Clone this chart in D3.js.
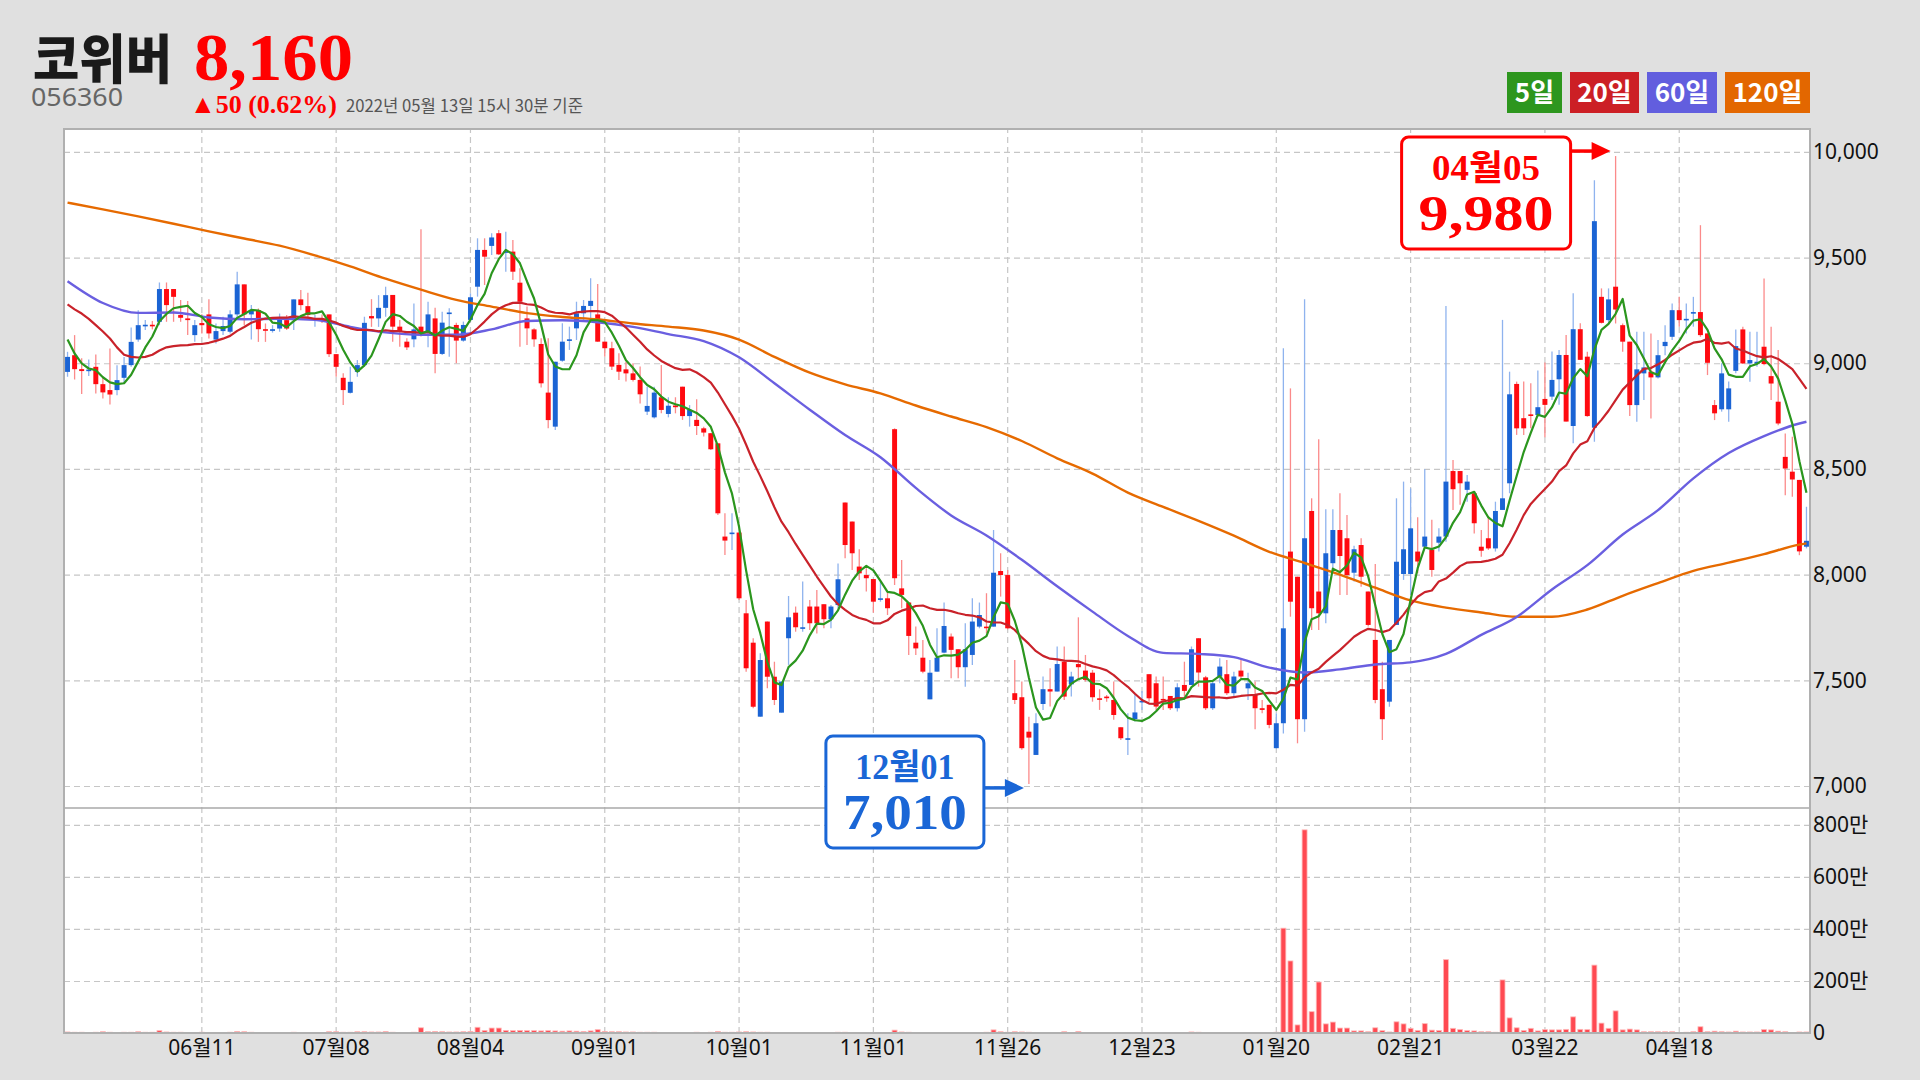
<!DOCTYPE html>
<html><head><meta charset="utf-8">
<script src="https://cdn.jsdelivr.net/npm/d3@7"></script>
<style>body{margin:0;background:#e0e0e0;}svg{display:block}</style>
</head><body><svg id="c" width="1920" height="1080"></svg>
<script>
// ---------------- DATA ----------------
const stockName = "코위버";
const stockCode = "056360";
const lastPrice = "8,160";
const changeText = "▲50 (0.62%)";
const timeText = "2022년 05월 13일 15시 30분 기준";

const opens = [8959,9038,8972,8963,8983,8901,8873,8873,8931,8991,
9112,9180,9182,9196,9351,9351,9228,9212,9133,9190,
9231,9112,9152,9149,9231,9373,9231,9251,9161,9153,
9164,9204,9204,9302,9270,9210,9212,9231,9043,8931,
8860,8959,8991,9223,9212,9262,9323,9173,9102,9113,
9173,9149,9212,9044,9237,9181,9107,9205,9362,9536,
9555,9615,9522,9528,9381,9212,9160,9091,8861,8700,
9012,9110,9165,9236,9271,9231,9102,9071,8992,8971,
8952,8921,8771,8744,8839,8760,8800,8889,8750,8732,
8692,8669,8621,8180,8195,8199,7817,7678,7328,7778,
7517,7347,7699,7820,7747,7849,7849,7860,7789,7856,
8341,8251,8038,7998,7979,7885,7888,8688,7935,7868,
7678,7607,7410,7541,7631,7707,7647,7562,7620,7754,
7754,7754,8017,7998,7439,7420,7257,7147,7388,7458,
7447,7588,7481,7577,7546,7536,7415,7423,7407,7278,
7223,7316,7397,7529,7486,7412,7426,7368,7478,7478,
7699,7514,7368,7518,7529,7439,7546,7462,7431,7368,
7384,7179,7297,8109,7990,7316,8301,7920,7817,8054,
8211,8172,8009,8140,7920,7691,7458,7399,7762,8003,
8003,8109,8132,8117,8151,8180,8490,8490,8401,8385,
8132,8172,8124,8306,8432,8902,8740,8758,8755,8831,
8842,8924,9039,8703,9161,9031,8695,9314,9204,9362,
9180,9102,8802,8952,8960,8933,9081,9125,9251,9204,
9236,9242,9141,8802,8782,8782,8964,9160,8999,8998,
9078,8939,8818,8557,8487,8448,8132];

const highs = [9054,9133,9023,9018,9041,8936,9070,8991,9030,9169,
9251,9204,9200,9382,9382,9351,9299,9294,9204,9232,
9303,9188,9220,9251,9433,9373,9275,9259,9188,9180,
9235,9228,9302,9346,9333,9228,9230,9231,9043,8952,
8983,9015,9220,9303,9322,9362,9323,9205,9118,9283,
9634,9291,9263,9244,9260,9192,9197,9331,9591,9591,
9615,9630,9622,9583,9449,9268,9165,9118,9118,9007,
9189,9173,9291,9299,9402,9375,9102,9102,9047,9007,
9000,8984,8889,8889,8992,8839,8839,8889,8802,8829,
8700,8669,8621,8290,8290,8199,7880,7699,7628,7778,
7588,7494,7899,7849,7967,7880,7927,7860,7856,8053,
8341,8251,8120,8030,7979,7967,7920,8692,8069,7868,
7754,7691,7596,7746,7868,7722,7647,7770,7888,7868,
7912,8211,8101,8022,7596,7494,7328,7344,7518,7557,
7660,7660,7541,7798,7620,7549,7458,7431,7494,7278,
7344,7439,7450,7529,7518,7518,7426,7486,7588,7660,
7699,7521,7502,7604,7596,7541,7596,7536,7494,7407,
7384,7344,9071,8881,7990,9303,8361,8640,8309,8309,
8385,8282,8136,8172,7920,8050,7588,7691,8361,8440,
8408,8271,8498,8259,8219,9271,8542,8490,8471,8393,
8211,8274,8345,9205,8960,8913,8913,8905,8965,9003,
9055,9063,9134,9331,9189,9054,9866,9354,9354,9980,
9188,9102,9149,9149,9141,9110,9180,9283,9314,9283,
9314,9653,9141,8826,9000,8913,9160,9173,9149,9149,
9401,9173,9062,8668,8652,8448,8321];

const lows = [8936,8923,8854,8939,8857,8833,8805,8849,8904,8983,
9101,9157,9160,9180,9196,9196,9196,9133,9101,9141,
9117,9093,9133,9141,9204,9180,9112,9101,9101,9145,
9149,9157,9157,9251,9204,9172,9190,9030,8936,8802,
8857,8936,8983,9172,9172,9220,9102,9078,9063,9075,
9126,9075,8952,9039,9031,9000,9102,9197,9315,9370,
9512,9512,9433,9394,9078,9086,9078,8885,8692,8684,
9007,9063,9110,9205,9205,9102,9031,8968,8921,8913,
8913,8810,8755,8739,8763,8744,8763,8732,8700,8661,
8653,8590,8282,8093,8117,7880,7541,7368,7328,7462,
7383,7347,7573,7730,7730,7738,7722,7746,7746,7841,
8077,8022,7975,7920,7820,7872,7809,7951,7841,7620,
7620,7533,7410,7541,7628,7510,7510,7470,7573,7746,
7722,7754,7896,7741,7388,7171,7010,7147,7360,7376,
7447,7407,7423,7502,7494,7399,7360,7399,7313,7218,
7147,7305,7360,7399,7360,7360,7360,7352,7423,7478,
7470,7360,7360,7486,7431,7423,7502,7407,7268,7344,
7273,7179,7249,7801,7202,7257,7738,7738,7770,8022,
7904,7904,7967,7943,7754,7391,7218,7375,7762,7975,
7904,8006,8132,7990,8109,8156,8306,8330,8345,8195,
8085,8117,8109,8306,8385,8661,8661,8692,8747,8650,
8826,8803,8724,8621,9016,8747,8628,9188,9188,9188,
9054,8750,8723,8826,8739,8928,9038,9110,9173,9141,
9173,9125,8944,8731,8771,8723,8952,8996,8912,8983,
8991,8826,8707,8376,8368,8092,8124];

const closes = [9030,8972,8963,8970,8901,8862,8852,8920,8991,9101,
9180,9182,9178,9351,9275,9314,9215,9204,9180,9180,
9141,9152,9176,9231,9373,9231,9251,9161,9155,9161,
9212,9164,9302,9275,9228,9212,9208,9043,8983,8873,
8912,8991,9191,9212,9262,9322,9173,9149,9075,9160,
9145,9231,9044,9192,9240,9107,9181,9312,9536,9504,
9595,9515,9530,9433,9291,9165,9113,8905,8731,9007,
9102,9113,9236,9271,9295,9102,9071,8984,8960,8952,
8921,8853,8798,8861,8779,8799,8792,8750,8779,8703,
8672,8593,8290,8161,8199,7888,7557,7375,7596,7517,
7407,7494,7798,7751,7751,7770,7770,7789,7849,7978,
8140,8101,8006,7983,7872,7888,7841,7983,7904,7710,
7651,7541,7536,7607,7757,7644,7562,7647,7778,7809,
7748,8009,7998,7746,7407,7179,7229,7297,7458,7447,
7577,7423,7518,7562,7502,7420,7410,7420,7336,7226,
7226,7348,7403,7415,7376,7407,7368,7467,7450,7647,
7537,7368,7486,7565,7439,7518,7518,7486,7368,7360,
7289,7297,7746,7872,7316,8172,7841,7817,8101,8211,
8088,7998,8120,7990,7762,7407,7316,7691,8061,8120,
8219,8062,8180,8022,8180,8440,8404,8432,8440,8243,
8113,8124,8301,8361,8853,8692,8692,8753,8792,8803,
8921,9039,8724,9161,9016,8750,9672,9191,9302,9254,
9102,8802,8971,8980,8933,9038,9101,9251,9204,9210,
9242,9133,9002,8763,8952,8881,9081,8999,9015,9007,
8996,8904,8715,8502,8450,8110,8160];

// volume in 만 (10,000 shares)
const volumes = [4,3,3,2,3,5,3,2,3,3,
5,3,3,9,4,3,3,2,2,3,
2,2,2,3,6,5,3,2,2,2,
2,2,3,2,2,2,2,5,5,3,
3,5,5,4,4,6,3,2,2,3,
20,5,6,5,4,4,5,6,22,10,
19,19,10,9,10,9,9,8,9,8,
7,8,7,6,8,13,6,5,5,4,
4,3,3,3,2,2,2,2,2,3,
2,3,6,3,3,4,5,4,3,3,
2,2,2,2,2,2,2,2,2,3,
3,2,2,2,2,2,2,11,4,3,
2,2,2,2,2,2,2,2,2,2,
3,12,5,3,5,4,3,2,2,2,
2,5,2,6,2,2,2,2,2,2,
2,2,2,2,2,2,2,2,2,4,
3,2,2,2,2,2,2,2,2,2,
2,3,403,277,31,781,82,196,35,42,
19,19,8,8,5,20,9,4,43,35,
18,10,36,11,10,282,18,13,9,8,
5,5,3,204,58,20,10,18,8,13,
12,12,14,62,14,13,261,38,18,85,
12,15,12,5,5,5,5,5,2,3,
5,24,5,7,5,4,7,4,4,4,
13,12,7,5,2,4,4];

const tickIndex  = [19,38,57,76,95,114,133,152,171,190,209,228];
const tickLabels = ["06월11","07월08","08월04","09월01","10월01","11월01","11월26","12월23","01월20","02월21","03월22","04월18"];
const priceTicks  = [7000,7500,8000,8500,9000,9500,10000];
const volumeTicks = [0,200,400,600,800];

const maLabels = ["5일","20일","60일","120일"];
const ma5Lead  = [9112,9046,8999,8975];
const ma20Lead = [9278,9255,9235,9210,9180,9150,9117,9075,9040,9030,9027,9030,9040,9060,9075,9081,9084,9086,9090];
// 60/120-day averages read every 5 candles (last one = final candle)
const ma60Read  = [9388,9285,9238,9240,9216,9208,9210,9206,9172,9146,9135,9135,9160,9200,9203,9194,9172,9138,9105,9028,
8905,8780,8660,8555,8410,8280,8185,8070,7945,7825,7710,7630,7625,7610,7560,7537,7552,7575,7585,7625,
7715,7800,7930,8045,8190,8305,8455,8575,8655,8715,8723];
const ma120Read = [9760,9728,9695,9660,9624,9590,9556,9510,9458,9400,9348,9300,9268,9237,9219,9207,9188,9173,9155,9112,
9030,8955,8900,8857,8800,8748,8698,8632,8550,8478,8388,8320,8254,8184,8108,8055,8000,7938,7878,7844,
7821,7801,7801,7835,7900,7960,8018,8057,8097,8142,8148];

// ---------------- LAYOUT ----------------
const W = 1920, H = 1080;
const L = 64, R = 1810, T = 129, MID = 808, B = 1033;
const RED = "#ff0a10", BLUE = "#1b64d4";
const maColors = ["#2b961e","#c9222a","#6a5fe0","#e66a00"];
const legendColors = ["#2d961e","#cc1f25","#625ede","#e36700"];
const legendWidths = [55,69,70,85];
const KFONT = "'Noto Sans CJK KR','Noto Sans',sans-serif";
const AFONT = "'Noto Sans','Noto Sans CJK KR',sans-serif";
const SERIF = "'Liberation Serif','DejaVu Serif','Noto Sans CJK KR',serif";

const svg = d3.select("#c");
svg.append("rect").attr("width", W).attr("height", H).attr("fill", "#e0e0e0");
svg.append("rect").attr("x", L).attr("y", T).attr("width", R - L).attr("height", B - T).attr("fill", "#fff");

const n = closes.length;
const x = d3.scaleBand().domain(d3.range(n)).range([L, R]).paddingInner(0.3).paddingOuter(0.15);
const bw = x.bandwidth();
const cx = i => x(i) + bw / 2;
const y = d3.scaleLinear().domain([6896, 10108]).range([MID, T]);
const yv = d3.scaleLinear().domain([0, 865]).range([B, MID]);

function styleAxis(g) {
  g.select(".domain").remove();
  g.selectAll(".tick line").attr("stroke", "#c6c6c6").attr("stroke-width", 1.2).attr("stroke-dasharray", "6,4");
  g.selectAll(".tick text").attr("fill", "#111").attr("font-family", AFONT).attr("font-size", 21);
}
svg.append("g").attr("transform", `translate(${R},0)`)
  .call(d3.axisRight(y).tickValues(priceTicks).tickFormat(d3.format(",")).tickSizeInner(-(R - L)).tickSizeOuter(0).tickPadding(3))
  .call(styleAxis);
svg.append("g").attr("transform", `translate(${R},0)`)
  .call(d3.axisRight(yv).tickValues(volumeTicks).tickFormat(v => v === 0 ? "0" : v + "만").tickSizeInner(-(R - L)).tickSizeOuter(0).tickPadding(3))
  .call(styleAxis);
svg.append("g").attr("transform", `translate(0,${B})`)
  .call(d3.axisBottom(x).tickValues(tickIndex).tickFormat((d, i) => tickLabels[i]).tickSizeInner(-(B - T)).tickSizeOuter(0).tickPadding(7))
  .call(styleAxis);

// clip for price panel
svg.append("clipPath").attr("id", "pclip").append("rect").attr("x", L).attr("y", T).attr("width", R - L).attr("height", MID - T);

// volume bars
svg.append("g").selectAll("rect").data(volumes).join("rect")
  .attr("x", (d, i) => x(i)).attr("width", bw)
  .attr("y", d => yv(d)).attr("height", d => B - yv(d))
  .attr("fill", "#ff4a52").attr("stroke", "#ffb8b8").attr("stroke-width", 0.8);

// candles
const cg = svg.append("g").attr("clip-path", "url(#pclip)");
const idx = d3.range(n);
const up = i => closes[i] > opens[i];
cg.selectAll("line.w").data(idx).join("line").attr("class", "w")
  .attr("x1", cx).attr("x2", cx)
  .attr("y1", i => y(highs[i])).attr("y2", i => y(lows[i]))
  .attr("stroke", i => up(i) ? "#8fb3ee" : "#fb8a8a").attr("stroke-width", 1.3);
cg.selectAll("rect.b").data(idx).join("rect").attr("class", "b")
  .attr("x", i => x(i)).attr("width", bw)
  .attr("y", i => y(Math.max(opens[i], closes[i])))
  .attr("height", i => Math.max(1.6, Math.abs(y(opens[i]) - y(closes[i]))))
  .attr("fill", i => up(i) ? BLUE : RED);

// moving averages
const ma5 = idx.map(i => i < 4 ? ma5Lead[i] : d3.mean(closes.slice(i - 4, i + 1)));
const ma20 = idx.map(i => i < 19 ? ma20Lead[i] : d3.mean(closes.slice(i - 19, i + 1)));
const readIdx = d3.range(0, n, 5).concat([n - 1]);
const lineDaily = d3.line().x((d, i) => cx(i)).y(d => y(d));
const lineRead = d3.line().x((d, i) => cx(readIdx[i])).y(d => y(d)).curve(d3.curveMonotoneX);
const mg = svg.append("g").attr("clip-path", "url(#pclip)").attr("fill", "none").attr("stroke-linejoin", "round");
mg.append("path").attr("d", lineRead(ma120Read)).attr("stroke", maColors[3]).attr("stroke-width", 2.4);
mg.append("path").attr("d", lineRead(ma60Read)).attr("stroke", maColors[2]).attr("stroke-width", 2.4);
mg.append("path").attr("d", lineDaily(ma20)).attr("stroke", maColors[1]).attr("stroke-width", 2.2);
mg.append("path").attr("d", lineDaily(ma5)).attr("stroke", maColors[0]).attr("stroke-width", 2.2);

// panel divider and frame
svg.append("line").attr("x1", L).attr("x2", R).attr("y1", MID).attr("y2", MID).attr("stroke", "#a9a9a9").attr("stroke-width", 1.6);
svg.append("rect").attr("x", L).attr("y", T).attr("width", R - L).attr("height", B - T)
  .attr("fill", "none").attr("stroke", "#b0b0b0").attr("stroke-width", 2);

// callouts
function callout(i, price, color, label, value, valueW, arrowDy, boxTopOff) {
  const px = cx(i), ay = y(price) + arrowDy;
  const tip = px - 5, boxR = px - 45;
  const boxW = valueW + 34, boxH = 112;
  const bx = boxR - boxW, by = ay - boxTopOff;
  const g = svg.append("g");
  g.append("line").attr("x1", boxR).attr("x2", tip - 16).attr("y1", ay).attr("y2", ay).attr("stroke", color).attr("stroke-width", 3.5);
  g.append("path").attr("d", `M${tip},${ay} L${tip - 19},${ay - 9} L${tip - 19},${ay + 9} Z`).attr("fill", color);
  g.append("rect").attr("x", bx).attr("y", by).attr("width", boxW).attr("height", boxH).attr("rx", 7)
    .attr("fill", "#fff").attr("stroke", color).attr("stroke-width", 3);
  g.append("text").attr("x", bx + boxW / 2).attr("y", by + 43).attr("text-anchor", "middle")
    .attr("font-family", SERIF).attr("font-weight", "bold").attr("font-size", 35).attr("fill", color)
    .attr("textLength", valueW * 0.8).attr("lengthAdjust", "spacingAndGlyphs").text(label);
  g.append("text").attr("x", bx + boxW / 2).attr("y", by + 93).attr("text-anchor", "middle")
    .attr("font-family", SERIF).attr("font-weight", "bold").attr("font-size", 51).attr("fill", color)
    .attr("textLength", valueW).attr("lengthAdjust", "spacingAndGlyphs").text(value);
}
const iMax = d3.maxIndex(highs), iMin = d3.minIndex(lows);
callout(iMax, highs[iMax], "#ff0000", "04월05", d3.format(",")(highs[iMax]), 135, -5, 14);
callout(iMin, lows[iMin], "#1a66d6", "12월01", d3.format(",")(lows[iMin]), 124, 4, 52);

// header
svg.append("text").attr("x", 33).attr("y", 79).attr("font-family", KFONT).attr("font-weight", 900)
  .attr("font-size", 53).attr("fill", "#1a1a1a").attr("textLength", 139).attr("lengthAdjust", "spacingAndGlyphs").text(stockName);
svg.append("text").attr("x", 194).attr("y", 80).attr("font-family", SERIF).attr("font-weight", "bold")
  .attr("font-size", 67).attr("fill", "#ff0000").attr("textLength", 159).attr("lengthAdjust", "spacingAndGlyphs").text(lastPrice);
svg.append("text").attr("x", 31).attr("y", 106).attr("font-family", "'Noto Sans',sans-serif")
  .attr("font-size", 26).attr("fill", "#666").attr("textLength", 92).attr("lengthAdjust", "spacingAndGlyphs").text(stockCode);
svg.append("text").attr("x", 190).attr("y", 113).attr("font-family", SERIF).attr("font-weight", "bold")
  .attr("font-size", 26).attr("fill", "#ff0000").attr("textLength", 147).attr("lengthAdjust", "spacingAndGlyphs").text(changeText);
svg.append("text").attr("x", 346).attr("y", 112).attr("font-family", KFONT)
  .attr("font-size", 17).attr("fill", "#555").attr("textLength", 237).attr("lengthAdjust", "spacingAndGlyphs").text(timeText);

// legend (right aligned)
let lx = R;
for (let k = maLabels.length - 1; k >= 0; k--) {
  lx -= legendWidths[k];
  svg.append("rect").attr("x", lx).attr("y", 72).attr("width", legendWidths[k]).attr("height", 41).attr("fill", legendColors[k]);
  svg.append("text").attr("x", lx + legendWidths[k] / 2).attr("y", 102).attr("text-anchor", "middle")
    .attr("font-family", KFONT).attr("font-weight", "bold").attr("font-size", 26).attr("fill", "#fff").text(maLabels[k]);
  lx -= 8;
}
</script>
</body></html>
